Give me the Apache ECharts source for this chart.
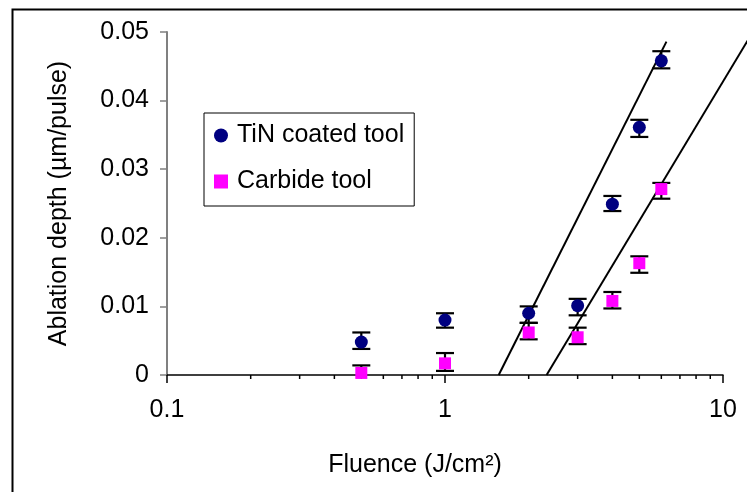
<!DOCTYPE html>
<html><head><meta charset="utf-8">
<script src="https://cdn.jsdelivr.net/npm/echarts@6/dist/echarts.min.js"></script>
<style>html,body{margin:0;padding:0;background:#fff}#c{width:747px;height:492px}</style>
</head><body><div id="c"></div>
<script>
const fluence = [0.5, 1, 2, 3, 4, 5, 6];
const tinDepth = [0.0048, 0.0080, 0.0090, 0.0101, 0.0249, 0.0361, 0.0458];
const tinLow   = [0.0038, 0.0069, 0.0076, 0.0087, 0.0239, 0.0347, 0.0447];
const tinHigh  = [0.0062, 0.0090, 0.0100, 0.0111, 0.0261, 0.0372, 0.0472];
const carbDepth = [0.0003, 0.0017, 0.0062, 0.0055, 0.0108, 0.0163, 0.0271];
const carbLow   = [-0.0008, 0.0006, 0.0052, 0.0045, 0.0097, 0.0149, 0.0257];
const carbHigh  = [0.0014, 0.0032, 0.0076, 0.0069, 0.0121, 0.0173, 0.0280];
const tinFit = [1.56, 0, 6.26, 0.0486];
const carbFit = [2.32, 0, 12.8, 0.05];
const minorTicks = [0.2, 0.3, 0.4, 0.5, 0.6, 0.7, 0.8, 0.9, 2, 3, 4, 5, 6, 7, 8, 9];
const yTicks = [0, 0.01, 0.02, 0.03, 0.04, 0.05];

const FONT = 'Arial, "Liberation Sans", sans-serif';
const FS = 25;
const zip = (a, b) => a.map((v, i) => [v, b[i]]);
const errData = (lo, hi) => fluence.map((x, i) => [x, lo[i], hi[i]]);

function errRender(params, api) {
  const x = api.value(0);
  const lo = api.coord([x, api.value(1)]);
  const hi = api.coord([x, api.value(2)]);
  const w = 9;
  const st = { stroke: '#000', lineWidth: 2.2 };
  return { type: 'group', children: [
    { type: 'line', shape: { x1: lo[0], y1: lo[1], x2: hi[0], y2: hi[1] }, style: st },
    { type: 'line', shape: { x1: lo[0] - w, y1: lo[1], x2: lo[0] + w, y2: lo[1] }, style: st },
    { type: 'line', shape: { x1: hi[0] - w, y1: hi[1], x2: hi[0] + w, y2: hi[1] }, style: st }
  ]};
}
function fitRender(params, api) {
  const a = api.coord([api.value(0), api.value(1)]);
  const b = api.coord([api.value(2), api.value(3)]);
  return { type: 'line', shape: { x1: a[0], y1: a[1], x2: b[0], y2: b[1] },
    style: { stroke: '#000', lineWidth: 2 } };
}

const chart = echarts.init(document.getElementById('c'));
chart.setOption({
  animation: false,
  backgroundColor: '#fff',
  textStyle: { fontFamily: FONT, color: '#000' },
  grid: { left: 167, right: 24, top: 32, bottom: 117, containLabel: false },
  graphic: [{ type: 'rect', left: 10, top: 7, shape: { width: 800, height: 600 },
    style: { fill: 'none', stroke: '#000', lineWidth: 2 }, z: -1 }],
  legend: {
    data: ['TiN coated tool', 'Carbide tool'],
    orient: 'vertical', left: 204, top: 113,
    itemWidth: 14, itemHeight: 14, itemGap: 21,
    padding: [10, 10, 12, 10],
    borderColor: '#000', borderWidth: 1,
    textStyle: { fontFamily: FONT, fontSize: FS, color: '#000', padding: [0, 0, 0, 4] }
  },
  xAxis: {
    type: 'log', logBase: 10, min: 0.1, max: 10,
    name: 'Fluence (J/cm²)', nameLocation: 'middle', nameGap: 78,
    nameTextStyle: { fontFamily: FONT, fontSize: FS, color: '#000', padding: [0, 60, 0, 0] },
    axisLine: { show: true, onZero: false, lineStyle: { color: '#000', width: 1.5 } },
    axisTick: { show: true, length: 8, inside: false, lineStyle: { color: '#000', width: 1.5 } },
    axisLabel: { fontFamily: FONT, fontSize: FS, color: '#000', margin: 23 },
    splitLine: { show: false }, minorTick: { show: false }
  },
  yAxis: {
    type: 'value', min: 0, max: 0.05, interval: 0.01,
    name: 'Ablation depth (µm/pulse)', nameLocation: 'middle', nameGap: 95,
    nameTextStyle: { fontFamily: FONT, fontSize: FS, color: '#000' },
    axisLine: { show: true, lineStyle: { color: '#808080', width: 2 } },
    axisTick: { show: true, length: 7, lineStyle: { color: '#808080', width: 1.5 } },
    axisLabel: { fontFamily: FONT, fontSize: FS, color: '#000', margin: 18,
      formatter: v => { const t = yTicks.find(y => Math.abs(y - v) < 1e-9); return t === undefined ? '' : String(t); } },
    splitLine: { show: false }
  },
  series: [
    { type: 'custom', data: [tinFit], renderItem: fitRender, clip: false, z: 3, silent: true },
    { type: 'custom', data: [carbFit], renderItem: fitRender, clip: false, z: 3, silent: true },
    { type: 'custom', data: errData(tinLow, tinHigh), renderItem: errRender, clip: true, z: 4, silent: true },
    { type: 'custom', data: errData(carbLow, carbHigh), renderItem: errRender, clip: true, z: 4, silent: true },
    { name: 'TiN coated tool', type: 'scatter', data: zip(fluence, tinDepth),
      symbol: 'circle', symbolSize: 13, itemStyle: { color: '#000080', opacity: 1 }, z: 5 },
    { name: 'Carbide tool', type: 'scatter', data: zip(fluence, carbDepth),
      symbol: 'rect', symbolSize: 12, itemStyle: { color: '#FF00FF', opacity: 1 }, z: 5 },
    { type: 'custom', data: minorTicks.map(v => [v, 0]), clip: false, z: 2, silent: true,
      renderItem: (params, api) => {
        const p = api.coord([api.value(0), 0]);
        return { type: 'line', shape: { x1: p[0], y1: p[1], x2: p[0], y2: p[1] + 4 },
          style: { stroke: '#000', lineWidth: 1.5 } };
      } }
  ]
});
</script></body></html>
